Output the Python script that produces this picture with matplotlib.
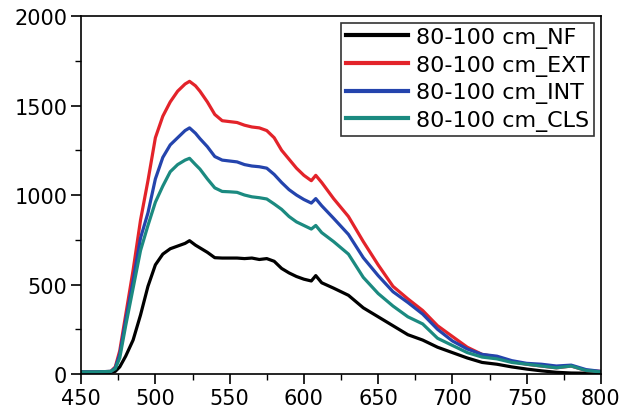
import matplotlib
matplotlib.use("Agg")
import matplotlib.pyplot as plt
from matplotlib.ticker import MultipleLocator

# wavelength (nm)
wl = [450, 460, 470, 473, 476, 480, 485, 490, 495, 500, 505, 510, 515, 520, 523, 527,
      530, 535, 540, 545, 550, 555, 560, 565, 570, 575, 580, 585, 590, 595, 600, 605,
      608, 612, 620, 630, 640, 650, 660, 670, 680, 690, 700, 710, 720, 730, 740, 750,
      760, 770, 780, 790, 800]

nf = [10, 10, 10, 15, 40, 100, 190, 330, 490, 610, 670, 700, 715, 730, 745, 720,
      705, 680, 650, 648, 648, 648, 645, 648, 640, 645, 630, 590, 565, 545, 530, 520,
      550, 510, 480, 440, 370, 320, 270, 220, 190, 150, 120, 90, 65, 55, 40, 28,
      18, 10, 6, 5, 5]

ext = [12, 12, 15, 40, 130, 330, 580, 860, 1080, 1320, 1440, 1520, 1580, 1620, 1635, 1610,
       1580, 1520, 1450, 1415, 1410, 1405, 1390, 1380, 1375, 1360, 1320, 1250, 1200, 1150, 1110, 1080,
       1110, 1070, 980, 880, 740, 610, 490, 420, 355, 270, 210, 150, 110, 95, 70, 55,
       45, 35, 45, 20, 15]

intr = [12, 12, 15, 35, 110, 300, 520, 760, 900, 1090, 1210, 1280, 1320, 1360, 1375, 1345,
        1315, 1270, 1215, 1195, 1190, 1185, 1170, 1162, 1158, 1150, 1115, 1070, 1030, 1000, 975, 955,
        980, 940, 870, 780, 650, 550, 460, 400, 335, 250, 185, 140, 110, 100, 75, 60,
        55, 45, 50, 25, 15]

cls = [12, 12, 15, 30, 90, 270, 480, 690, 830, 960, 1050, 1130, 1170, 1195, 1205, 1170,
       1145, 1090, 1040, 1020, 1018, 1015, 1000, 990, 985, 978, 950, 920, 880, 850, 830, 810,
       830, 790, 740, 670, 540, 450, 380, 320, 280, 200, 160, 120, 95, 85, 65, 55,
       45, 35, 45, 20, 12]

labels = ["80-100 cm_NF", "80-100 cm_EXT", "80-100 cm_INT", "80-100 cm_CLS"]
colors = ["black", "#e3232a", "#2444ad", "#1b8a80"]

plt.rcParams['font.family'] = ['DejaVu Sans']

fig = plt.figure(figsize=(6.24, 4.14), dpi=100)
ax = fig.add_axes([0.130, 0.094, 0.833, 0.865])

for ys, lab, c in zip([nf, ext, intr, cls], labels, colors):
    ax.plot(wl, ys, color=c, linewidth=2.3, label=lab)

ax.set_xlim(450, 800)
ax.set_ylim(0, 2000)
ax.xaxis.set_major_locator(MultipleLocator(50))
ax.xaxis.set_minor_locator(MultipleLocator(25))
ax.yaxis.set_major_locator(MultipleLocator(500))
ax.yaxis.set_minor_locator(MultipleLocator(250))
ax.tick_params(which='major', direction='out', length=7, width=1.2, labelsize=15, pad=3)
ax.tick_params(which='minor', direction='out', length=4, width=1.0)
for s in ax.spines.values():
    s.set_linewidth(1.2)

leg = ax.legend(loc='upper right', fontsize=16, frameon=True, fancybox=False,
                edgecolor='black', handlelength=2.8, handletextpad=0.36,
                labelspacing=0.3, borderpad=0.2, borderaxespad=0.3)
leg.get_frame().set_linewidth(1.2)
for line in leg.get_lines():
    line.set_linewidth(3)

plt.savefig("out.png", dpi=100)
